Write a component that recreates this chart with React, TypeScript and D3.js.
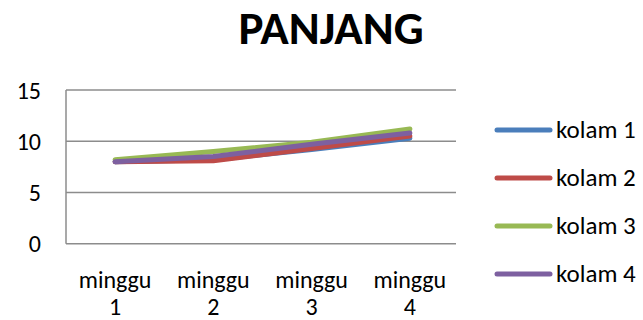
import React from "react";
import * as d3 from "d3";

const categories = ["minggu 1", "minggu 2", "minggu 3", "minggu 4"];
const seriesNames = ["kolam 1", "kolam 2", "kolam 3", "kolam 4"];
const kolam1 = [8.0, 8.2, 9.2, 10.3];
const kolam2 = [8.0, 8.1, 9.3, 10.5];
const kolam3 = [8.2, 9.0, 9.9, 11.2];
const kolam4 = [8.0, 8.5, 9.7, 10.8];
const yTicks = [0, 5, 10, 15];
const colors = ["#4a7ebb", "#be4b48", "#98b954", "#7d60a0"];
const title = "PANJANG";

const W = 643, H = 320;
const font = "Carlito, Calibri, 'Open Sans', sans-serif";

export default function App() {
  const left = 66, right = 459, top = 90, bottom = 243.7;
  const x = d3.scaleBand().domain(categories).range([left, right]);
  const y = d3.scaleLinear().domain([0, 15]).range([bottom, top]);
  const data = [kolam1, kolam2, kolam3, kolam4];
  const line = d3
    .line<number>()
    .x((_, i) => (x(categories[i]) as number) + x.bandwidth() / 2)
    .y((d) => y(d));
  const legendY = [130, 178, 226, 274];
  return (
    <svg width={W} height={H} style={{ position: "absolute", left: 0, top: 0, fontFamily: font }}>
      <rect width={W} height={H} fill="#fff" />
      <text x={331} y={44} textAnchor="middle" fontWeight="bold" fontSize={47} fill="#000">
        {title}
      </text>
      {yTicks.map((t) => (
        <g key={t}>
          <line x1={left} x2={456} y1={y(t)} y2={y(t)} stroke="#8c8c8c" strokeWidth={1.5} />
          <text x={41} y={y(t) + 8.5} textAnchor="end" fontSize={24} fill="#000">
            {t}
          </text>
        </g>
      ))}
      <line x1={left} x2={left} y1={top} y2={bottom} stroke="#8c8c8c" strokeWidth={1.5} />
      {categories.map((c) => {
        const [w, n] = c.split(" ");
        const cx = (x(c) as number) + x.bandwidth() / 2;
        return (
          <text key={c} x={cx} textAnchor="middle" fontSize={24} fill="#000">
            <tspan x={cx} y={287.5}>{w}</tspan>
            <tspan x={cx} y={315}>{n}</tspan>
          </text>
        );
      })}
      {data.map((d, i) => (
        <path
          key={i}
          d={line(d) as string}
          fill="none"
          stroke={colors[i]}
          strokeWidth={5}
          strokeLinecap="round"
          strokeLinejoin="round"
        />
      ))}
      {seriesNames.map((s, i) => (
        <g key={s}>
          <line x1={497} x2={550} y1={legendY[i]} y2={legendY[i]} stroke={colors[i]} strokeWidth={5} strokeLinecap="round" />
          <text x={556} y={legendY[i] + 8} fontSize={25} fill="#000">
            {s}
          </text>
        </g>
      ))}
    </svg>
  );
}
